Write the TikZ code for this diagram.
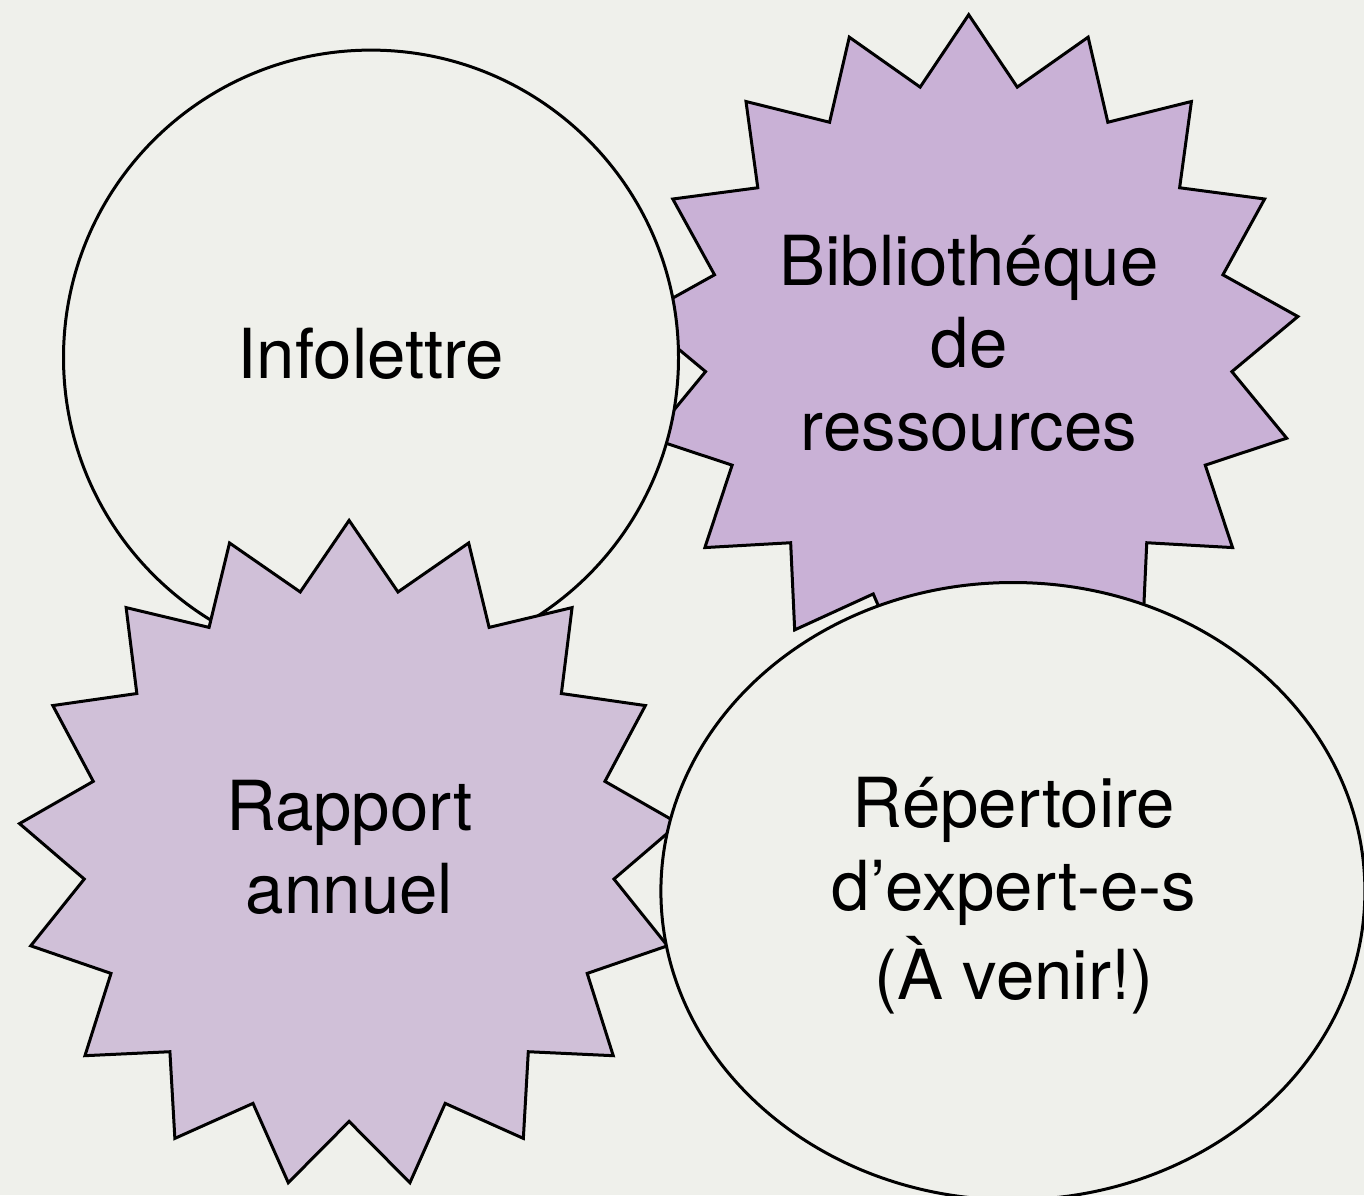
\documentclass[tikz,border=0pt]{standalone}
\usepackage{fontspec}
\setmainfont{TeX Gyre Heros}
\usetikzlibrary{shapes.geometric}
\definecolor{bgc}{RGB}{239,240,235}
\definecolor{bibfill}{RGB}{201,177,214}
\definecolor{rapfill}{RGB}{208,192,216}
\begin{document}
\begin{tikzpicture}[x=1pt,y=-1pt,
  outline/.style={draw=black, line width=3pt, line join=miter},
  bubble/.style={outline, fill=bgc, inner sep=0pt},
  lbl/.style={inner sep=0pt, align=center, text=black, font=\fontsize{69}{82.3}\selectfont}]
\fill[bgc] (0,0) rectangle (1364,1195);
\useasboundingbox (0,0) rectangle (1364,1195);

% Bibliotheque starburst (17 points)
\coordinate (bibc) at (968.7,347.2);
\draw[outline, fill=bibfill] (968.7,14.7)
  \foreach \k in {0,...,15}{
    -- ({968.7+264.3*cos(90+(\k+0.5)*360/17)},{347.2-264.6*sin(90+(\k+0.5)*360/17)})
    -- ({968.7+330.6*cos(90+(\k+1)*360/17)},{347.2-332.5*sin(90+(\k+1)*360/17)})
  }
  -- ({968.7+264.3*cos(90+16.5*360/17)},{347.2-264.6*sin(90+16.5*360/17)}) -- cycle;
\node[lbl] (bib) at (969,351.5) {\strut Bibliothéque\\\strut de\\\strut ressources};

% Infolettre circle
\node[bubble, circle, minimum size=615pt] (infoshape) at (371,357.6) {};
\node[lbl] (info) at (371,362.3) {\strut Infolettre};

% Rapport annuel starburst (17 points)
\coordinate (rapc) at (349.1,854.4);
\draw[outline, fill=rapfill] (349.1,520.4)
  \foreach \k in {0,...,15}{
    -- ({349.1+266*cos(90+(\k+0.5)*360/17)},{854.4-267*sin(90+(\k+0.5)*360/17)})
    -- ({349.1+331*cos(90+(\k+1)*360/17)},{854.4-334*sin(90+(\k+1)*360/17)})
  }
  -- ({349.1+266*cos(90+16.5*360/17)},{854.4-267*sin(90+16.5*360/17)}) -- cycle;
\node[lbl] (rap) at (349.5,855.5) {\strut Rapport\\\strut annuel};

% Repertoire ellipse
\node[bubble, ellipse, minimum width=704pt, minimum height=617.4pt] (repshape) at (1012.9,891.2) {};
\node[lbl] (rep) at (1014,897) {\strut Répertoire\\\strut d’expert-e-s\\\strut (À venir!)};
\end{tikzpicture}
\end{document}
